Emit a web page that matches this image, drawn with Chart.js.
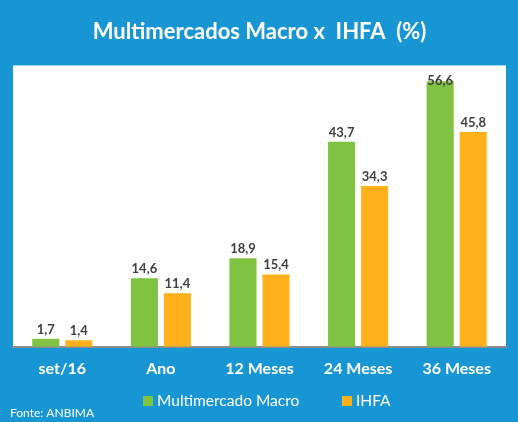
<!DOCTYPE html>
<html>
<head>
<meta charset="utf-8">
<script src="https://cdn.jsdelivr.net/npm/chart.js@4/dist/chart.umd.min.js"></script>
<style>
  html, body { margin: 0; padding: 0; background: #1896d3; }
  #wrap { width: 518px; height: 422px; }
</style>
</head>
<body>
<div id="wrap"><canvas id="myChart" width="518" height="422"></canvas></div>
<script>
/* data */
const categories = ['set/16', 'Ano', '12 Meses', '24 Meses', '36 Meses'];
const macro = [1.7, 14.6, 18.9, 43.7, 56.6];
const ihfa = [1.4, 11.4, 15.4, 34.3, 45.8];

const FONT = 'Lato, "Open Sans", sans-serif';

// white plot box + value labels + legend + source note
const decor = {
  id: 'decor',
  beforeDraw(chart) {
    const { ctx, chartArea: a } = chart;
    ctx.save();
    ctx.fillStyle = '#ffffff';
    ctx.fillRect(a.left, a.top, a.right - a.left, a.bottom - a.top);
    ctx.restore();
  },
  afterDatasetsDraw(chart) {
    const { ctx, chartArea: a } = chart;
    ctx.save();
    ctx.font = 'bold 13px ' + FONT;
    ctx.fillStyle = '#404040';
    ctx.textAlign = 'center';
    ctx.textBaseline = 'bottom';
    chart.data.datasets.forEach(function(ds, i) {
      chart.getDatasetMeta(i).data.forEach(function(bar, j) {
        let y = bar.y - 3;
        if (y < a.top + 22) y = a.top + 22;
        ctx.fillText(ds.data[j].toFixed(1).replace('.', ','), bar.x, y);
      });
    });

    // legend
    ctx.font = '15.5px ' + FONT;
    ctx.textBaseline = 'middle';
    ctx.textAlign = 'left';
    const legendX = [143, 342];
    chart.data.datasets.forEach(function(ds, i) {
      ctx.fillStyle = ds.backgroundColor;
      ctx.fillRect(legendX[i], 396, 10, 10);
      ctx.fillStyle = '#ffffff';
      ctx.fillText(ds.label, legendX[i] + 14, 401);
    });

    ctx.font = '12px ' + FONT;
    ctx.fillText('Fonte: ANBIMA', 10, 413);
    ctx.restore();
  }
};

var ctx = document.getElementById('myChart').getContext('2d');

new Chart(ctx, {
  type: 'bar',
  data: {
    labels: categories,
    datasets: [{
      label: 'Multimercado Macro',
      backgroundColor: '#80c342',
      data: macro,
    },
    {
      label: 'IHFA',
      backgroundColor: '#ffb11b',
      data: ihfa,
    }]
  },
  options: {
    responsive: false,
    animation: false,
    categoryPercentage: 0.67,
    barPercentage: 0.82,
    layout: { padding: { left: 13, right: 12, bottom: 40 } },
    plugins: {
      title: {
        display: true,
        text: 'Multimercados Macro x  IHFA  (%)',
        color: '#ffffff',
        font: { family: FONT, size: 22, weight: 'bold' },
        padding: { top: 19, bottom: 20 }
      },
      legend: { display: false },
      tooltip: { enabled: false }
    },
    scales: {
      x: {
        grid: { display: false },
        border: { color: '#8c8c8c', width: 2 },
        ticks: {
          color: '#ffffff',
          padding: 4,
          font: { family: FONT, size: 16, weight: 'bold' }
        }
      },
      y: {
        display: false,
        min: 0,
        max: 60
      }
    }
  },
  plugins: [decor]
});
</script>
</body>
</html>
